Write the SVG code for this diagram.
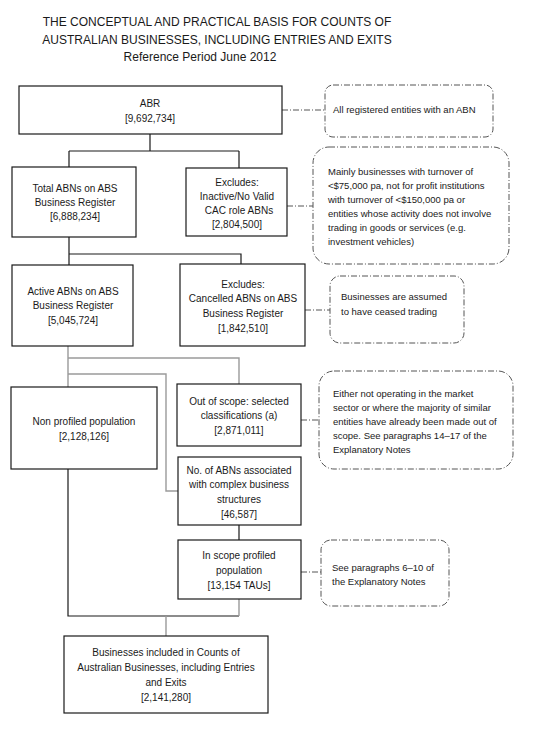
<svg xmlns="http://www.w3.org/2000/svg" width="559" height="729" viewBox="0 0 559 729">
<style>
.t{font-family:"Liberation Sans",Arial,sans-serif;fill:#1a1a1a}
.title{font-size:12px;text-anchor:middle}
.bx{font-size:10px;text-anchor:middle}
.nt{font-size:9.5px}
.box{fill:#fff;stroke:#1a1a1a;stroke-width:1.2}
.note{fill:#fff;stroke:#555;stroke-width:1;stroke-dasharray:6 2 1 2}
.k{fill:none;stroke:#1a1a1a;stroke-width:1.2}
.g{fill:none;stroke:#9a9a9a;stroke-width:1.4}
.d{fill:none;stroke:#555;stroke-width:1;stroke-dasharray:6 2 1 2}
</style>
<rect width="559" height="729" fill="#fff"/>
<g id="title" class="t title">
<text x="217" y="26">THE CONCEPTUAL AND PRACTICAL BASIS FOR COUNTS OF</text>
<text x="217" y="44">AUSTRALIAN BUSINESSES, INCLUDING ENTRIES AND EXITS</text>
<text x="200" y="61">Reference Period June 2012</text>
</g>
<g id="connectors">
<path class="k" d="M150 134V151M69 151H239M69 151V167M239 151V168"/>
<path class="k" d="M69 237V254H241V264M69 254V265"/>
<path class="g" d="M68 346V387M68 358H239V384M68 374H166V491H178"/>
<path class="k" d="M239 525V540"/>
<path class="k" d="M68 469V616H239"/>
<path class="g" d="M239 599V616M166 616V636"/>
<path class="d" d="M282 110H325M287 206H313M305 310H330M301 420H319M301 572H321"/>
</g>
<g id="abr"><rect class="box" x="19" y="86" width="263" height="48"/>
<text class="t bx" x="150" y="107">ABR</text><text class="t bx" x="150" y="122">[9,692,734]</text></g>
<g id="note-abr"><rect class="note" x="325" y="85" width="168" height="52" rx="8"/>
<text class="t nt" x="333" y="113">All registered entities with an ABN</text></g>
<g id="total"><rect class="box" x="12" y="167" width="124" height="70"/>
<text class="t bx" x="75" y="192">Total ABNs on ABS</text><text class="t bx" x="75" y="206">Business Register</text><text class="t bx" x="75" y="220">[6,888,234]</text></g>
<g id="inactive"><rect class="box" x="186" y="168" width="101" height="68"/>
<text class="t bx" x="237" y="186">Excludes:</text><text class="t bx" x="237" y="200">Inactive/No Valid</text><text class="t bx" x="239" y="214">CAC role ABNs</text><text class="t bx" x="237" y="228">[2,804,500]</text></g>
<g id="note-inactive"><rect class="note" x="313" y="147" width="196" height="117" rx="16"/>
<g class="t nt"><text x="328" y="175">Mainly businesses with turnover of</text><text x="328" y="189">&lt;$75,000 pa, not for profit institutions</text><text x="328" y="203">with turnover of &lt;$150,000 pa or</text><text x="328" y="217">entities whose activity does not involve</text><text x="328" y="231">trading in goods or services (e.g.</text><text x="328" y="245">investment vehicles)</text></g></g>
<g id="active"><rect class="box" x="12" y="265" width="121" height="81"/>
<text class="t bx" x="73" y="295">Active ABNs on ABS</text><text class="t bx" x="73" y="309">Business Register</text><text class="t bx" x="73" y="324">[5,045,724]</text></g>
<g id="cancelled"><rect class="box" x="180" y="264" width="125" height="82"/>
<text class="t bx" x="243" y="288">Excludes:</text><text class="t bx" x="243" y="302">Cancelled ABNs on ABS</text><text class="t bx" x="243" y="317">Business Register</text><text class="t bx" x="243" y="332">[1,842,510]</text></g>
<g id="note-cancelled"><rect class="note" x="330" y="276" width="134" height="67" rx="10"/>
<text class="t nt" x="341" y="300">Businesses are assumed</text><text class="t nt" x="341" y="315">to have ceased trading</text></g>
<g id="nonprofiled"><rect class="box" x="11" y="387" width="146" height="82"/>
<text class="t bx" x="84" y="425">Non profiled population</text><text class="t bx" x="84" y="440">[2,128,126]</text></g>
<g id="outofscope"><rect class="box" x="177" y="384" width="124" height="62"/>
<text class="t bx" x="239" y="405">Out of scope: selected</text><text class="t bx" x="239" y="419">classifications (a)</text><text class="t bx" x="239" y="434">[2,871,011]</text></g>
<g id="note-outofscope"><rect class="note" x="319" y="371" width="194" height="98" rx="15"/>
<g class="t nt"><text x="333" y="397">Either not operating in the market</text><text x="333" y="411">sector or where the majority of similar</text><text x="333" y="425">entities have already been made out of</text><text x="333" y="439">scope. See paragraphs 14–17 of the</text><text x="333" y="453">Explanatory Notes</text></g></g>
<g id="complex"><rect class="box" x="178" y="457" width="123" height="68"/>
<text class="t bx" x="239" y="474">No. of ABNs associated</text><text class="t bx" x="239" y="488">with complex business</text><text class="t bx" x="239" y="503">structures</text><text class="t bx" x="239" y="518">[46,587]</text></g>
<g id="inscope"><rect class="box" x="178" y="540" width="123" height="59"/>
<text class="t bx" x="239" y="559">In scope profiled</text><text class="t bx" x="239" y="574">population</text><text class="t bx" x="239" y="589">[13,154 TAUs]</text></g>
<g id="note-inscope"><rect class="note" x="321" y="540" width="128" height="66" rx="10"/>
<text class="t nt" x="332" y="571">See paragraphs 6–10 of</text><text class="t nt" x="332" y="585">the Explanatory Notes</text></g>
<g id="included"><rect class="box" x="64" y="636" width="204" height="77"/>
<text class="t bx" x="166" y="656">Businesses included in Counts of</text><text class="t bx" x="166" y="671">Australian Businesses, including Entries</text><text class="t bx" x="166" y="686">and Exits</text><text class="t bx" x="166" y="701">[2,141,280]</text></g>
</svg>
